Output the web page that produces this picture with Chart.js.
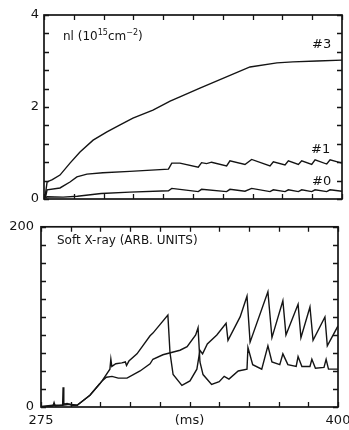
<!DOCTYPE html>
<html>
<head>
<meta charset="utf-8">
<script src="https://cdn.jsdelivr.net/npm/chart.js@4/dist/chart.umd.min.js"></script>
<style>
  html, body { margin: 0; padding: 0; background: #fff; }
  #wrap { position: relative; width: 349px; height: 430px; }
  canvas { position: absolute; left: 0; }
  #nlChart { top: 0; }
  #sxrChart { top: 212px; }
</style>
</head>
<body>
<div id="wrap">
  <canvas id="nlChart" width="349" height="212"></canvas>
  <canvas id="sxrChart" width="349" height="218"></canvas>
</div>
<script>
// Line density nl (10^15 cm^-2), chords #3, #1, #0
const nl3Time = [275.4, 276.3, 278.5, 281.7, 285.9, 290.1, 295.6, 301.4, 306.9, 312.3, 320.7, 327.9, 332, 340.4, 361.4, 372.7, 379.4, 389.5, 400];
const nl3Vals = [0.03, 0.37, 0.42, 0.52, 0.78, 1.02, 1.28, 1.46, 1.61, 1.76, 1.93, 2.13, 2.22, 2.41, 2.87, 2.96, 2.98, 3.0, 3.02];

const nl1Time = [275.6, 276.3, 281.7, 285.9, 288.8, 293, 299.7, 311, 327.2, 328.6, 332, 339.7, 341.1, 343.2, 345.3, 351.6, 353, 359.3, 362.1, 369.8, 371.2, 376.1, 377.5, 381.7, 383.1, 387.3, 388.7, 393.6, 395, 400];
const nl1Vals = [0.03, 0.2, 0.24, 0.37, 0.48, 0.54, 0.57, 0.6, 0.65, 0.78, 0.78, 0.69, 0.79, 0.77, 0.8, 0.72, 0.83, 0.75, 0.86, 0.72, 0.81, 0.74, 0.83, 0.75, 0.83, 0.75, 0.85, 0.76, 0.85, 0.78];

const nl0Time = [275.6, 276.3, 283, 289, 299, 311, 327.2, 328.6, 332, 339.7, 341.1, 351.6, 353, 359.3, 362.1, 369.8, 371.2, 376.1, 377.5, 381.7, 383.1, 387.3, 388.7, 393.6, 395, 400];
const nl0Vals = [0.02, 0.05, 0.04, 0.06, 0.12, 0.15, 0.18, 0.23, 0.21, 0.16, 0.21, 0.16, 0.21, 0.17, 0.23, 0.16, 0.2, 0.16, 0.2, 0.16, 0.2, 0.16, 0.2, 0.16, 0.2, 0.17];

// Soft X-ray (arb. units), two traces
const sxrATime = [275, 280, 284, 287, 290.2, 295.6, 299.8, 300.7, 304, 304.4, 304.8, 306.5, 309, 310.5, 311, 312, 315.4, 320.9, 322.1, 328.4, 329.3, 330.6, 334.3, 337.7, 340.6, 341.9, 343, 345, 349, 352.9, 353.7, 358.8, 361.7, 363, 370.5, 372.2, 376.8, 378.1, 383.2, 384.4, 388.2, 389.5, 394.5, 395.5, 400];
const sxrAVals = [0.5, 2, 2, 3, 2, 13, 26, 29, 42, 53, 45, 48, 49, 50, 46, 51, 59, 79, 82, 102, 60, 36, 24, 29, 42, 63, 59, 70, 80, 93, 74, 100, 123, 72, 128, 77, 118, 80, 114, 77, 111, 74, 100, 68, 90];

const sxrBTime = [275, 280, 280.5, 281, 284.1, 284.3, 284.6, 286, 288, 290.2, 295.6, 299.8, 300.7, 302.5, 304.9, 307.5, 311.2, 316.7, 320.9, 322.1, 326.3, 333.5, 336.5, 340.1, 341.1, 341.9, 343.2, 346.8, 350, 352.1, 354.1, 358, 361.7, 362.1, 364.1, 367.9, 370.5, 372.2, 375.5, 376.8, 378.9, 382.4, 383.2, 384.8, 388.2, 389, 390.5, 394.1, 395, 396, 400];
const sxrBVals = [0, 1, 5, 1, 2, 22, 3, 4, 2, 2, 13, 26, 29, 33, 34, 32, 32, 40, 48, 53, 58, 63, 67, 80, 88, 50, 36, 25, 28, 34, 31, 40, 42, 66, 47, 42, 68, 50, 47, 59, 47, 45, 56, 45, 45, 53, 43, 44, 53, 42, 42];

// tick positions
const timeTicks = [275, 287.5, 300, 312.5, 325, 337.5, 350, 362.5, 375, 387.5, 400];
const nlTicks = [0, 0.4, 0.8, 1.2, 1.6, 2, 2.4, 2.8, 3.2, 3.6, 4];
const nlTickLabels = ['0', '', '', '', '', '2', '', '', '', '', '4'];
const sxrTicks = [0, 20, 40, 60, 80, 100, 120, 140, 160, 180, 200];
const sxrTickLabels = ['0', '', '', '', '', '', '', '', '', '', '200'];
const timeTickLabels = ['275', '', '', '', '', '(ms)', '', '', '', '', '400'];

const INK = '#141414';
const FONT = '"DejaVu Sans", sans-serif';

function toPoints(times, vals) {
  return times.map((t, i) => ({ x: t, y: vals[i] }));
}

function traceStyle(times, vals) {
  return {
    data: toPoints(times, vals),
    borderColor: INK,
    borderWidth: 1.4,
    pointRadius: 0,
    tension: 0,
    fill: false
  };
}

function fixedTicks(values) {
  return scale => { scale.ticks = values.map(v => ({ value: v })); };
}

// box frame with inward ticks on all four sides
const frameTicks = {
  id: 'frameTicks',
  afterDraw(chart, args, opts) {
    const { ctx, chartArea: a, scales: { x, y } } = chart;
    ctx.save();
    ctx.strokeStyle = INK;
    ctx.lineWidth = 1.3;
    ctx.beginPath();
    opts.xTicks.forEach(v => {
      const px = Math.round(x.getPixelForValue(v)) + 0.5;
      ctx.moveTo(px, a.bottom); ctx.lineTo(px, a.bottom - 5);
      ctx.moveTo(px, a.top); ctx.lineTo(px, a.top + 5);
    });
    opts.yTicks.forEach(v => {
      const py = Math.round(y.getPixelForValue(v)) + 0.5;
      ctx.moveTo(a.left, py); ctx.lineTo(a.left + 5, py);
      ctx.moveTo(a.right, py); ctx.lineTo(a.right - 5, py);
    });
    ctx.stroke();
    ctx.lineWidth = 1.7;
    ctx.strokeRect(a.left, a.top, a.right - a.left, a.bottom - a.top);
    ctx.restore();
  }
};

// panel captions; each part may be raised as a superscript
const panelText = {
  id: 'panelText',
  afterDraw(chart, args, opts) {
    const { ctx } = chart;
    ctx.save();
    ctx.fillStyle = INK;
    ctx.textBaseline = 'middle';
    (opts.items || []).forEach(item => {
      let cx = item.x;
      item.parts.forEach(p => {
        const size = p.sup ? 8 : item.size;
        ctx.font = size + 'px ' + FONT;
        ctx.fillText(p.t, cx, item.y - (p.sup ? 4 : 0));
        cx += ctx.measureText(p.t).width;
      });
    });
    ctx.restore();
  }
};

new Chart(document.getElementById('nlChart'), {
  type: 'line',
  data: {
    datasets: [
      traceStyle(nl3Time, nl3Vals),
      traceStyle(nl1Time, nl1Vals),
      traceStyle(nl0Time, nl0Vals)
    ]
  },
  options: {
    responsive: false,
    animation: false,
    events: [],
    layout: { padding: { left: 0, right: 7, top: 15, bottom: 0 } },
    plugins: {
      legend: { display: false },
      tooltip: { enabled: false },
      frameTicks: { xTicks: timeTicks, yTicks: nlTicks },
      panelText: {
        items: [
          { x: 63, y: 37, size: 12, parts: [{ t: 'nl (10' }, { t: '15', sup: true }, { t: 'cm' }, { t: '\u22122', sup: true }, { t: ')' }] },
          { x: 312, y: 45, size: 13, parts: [{ t: '#3' }] },
          { x: 311, y: 150, size: 13, parts: [{ t: '#1' }] },
          { x: 312, y: 182, size: 13, parts: [{ t: '#0' }] }
        ]
      }
    },
    scales: {
      x: {
        type: 'linear',
        min: 275,
        max: 400,
        grid: { display: false },
        border: { display: false },
        ticks: { display: false },
        afterBuildTicks: fixedTicks(timeTicks),
        afterFit(scale) { scale.height = 13; scale.paddingLeft = 0; scale.paddingRight = 0; }
      },
      y: {
        min: 0,
        max: 4,
        grid: { display: false, drawTicks: false },
        border: { display: false },
        ticks: {
          padding: 5,
          autoSkip: false,
          color: INK,
          font: { family: FONT, size: 13 },
          callback: (v, i) => nlTickLabels[i]
        },
        afterBuildTicks: fixedTicks(nlTicks),
        afterFit(scale) { scale.width = 44; }
      }
    }
  },
  plugins: [frameTicks, panelText]
});

new Chart(document.getElementById('sxrChart'), {
  type: 'line',
  data: {
    datasets: [
      traceStyle(sxrATime, sxrAVals),
      traceStyle(sxrBTime, sxrBVals)
    ]
  },
  options: {
    responsive: false,
    animation: false,
    events: [],
    layout: { padding: { left: 0, right: 11, top: 8, bottom: 0 } },
    plugins: {
      legend: { display: false },
      tooltip: { enabled: false },
      frameTicks: { xTicks: timeTicks, yTicks: sxrTicks },
      panelText: {
        items: [
          { x: 57, y: 29, size: 12, parts: [{ t: 'Soft X-ray (ARB. UNITS)' }] }
        ]
      }
    },
    scales: {
      x: {
        type: 'linear',
        min: 275,
        max: 400,
        grid: { display: false, drawTicks: false },
        border: { display: false },
        ticks: {
          padding: 6,
          maxRotation: 0,
          autoSkip: false,
          color: INK,
          font: { family: FONT, size: 13 },
          callback: (v, i) => timeTickLabels[i]
        },
        afterBuildTicks: fixedTicks(timeTicks),
        afterFit(scale) { scale.height = 23; scale.paddingLeft = 0; scale.paddingRight = 0; }
      },
      y: {
        min: 0,
        max: 200,
        grid: { display: false, drawTicks: false },
        border: { display: false },
        ticks: {
          padding: 7,
          autoSkip: false,
          color: INK,
          font: { family: FONT, size: 13 },
          callback: (v, i) => sxrTickLabels[i]
        },
        afterBuildTicks: fixedTicks(sxrTicks),
        afterFit(scale) { scale.width = 41; }
      }
    }
  },
  plugins: [frameTicks, panelText]
});
</script>
</body>
</html>
